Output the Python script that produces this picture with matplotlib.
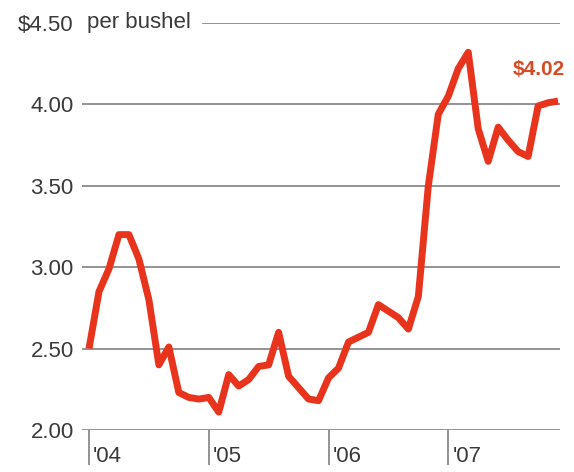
import matplotlib.pyplot as plt

# Monthly corn price, Jan 2004 - Dec 2007 ($ per bushel)
months = list(range(48))
prices = [
    2.50, 2.85, 2.99, 3.20, 3.20, 3.05, 2.80, 2.40, 2.51, 2.23, 2.20, 2.19,  # 2004
    2.20, 2.11, 2.34, 2.27, 2.31, 2.39, 2.40, 2.60, 2.33, 2.26, 2.19, 2.18,  # 2005
    2.32, 2.38, 2.54, 2.57, 2.60, 2.77, 2.73, 2.69, 2.62, 2.82, 3.50, 3.94,  # 2006
    4.05, 4.22, 4.32, 3.85, 3.65, 3.86, 3.78, 3.71, 3.68, 3.99, 4.01, 4.02,  # 2007
]
year_starts = [0, 12, 24, 36]
year_labels = ["'04", "'05", "'06", "'07"]
y_ticks = [2.0, 2.5, 3.0, 3.5, 4.0, 4.5]
y_labels = ["2.00", "2.50", "3.00", "3.50", "4.00", "$4.50"]
last_label = "$4.02"

LINE = "#e8341c"
TEXT = "#3a3a3a"
GRID = "#8a8a8a"

plt.rcParams["font.family"] = ["Liberation Sans", "DejaVu Sans"]

fig = plt.figure(figsize=(5.74, 4.72), dpi=100)
ax = fig.add_axes([0.1429, 0.0890, 0.8328, 0.8623])

ax.set_xlim(-0.7, 47.2)
ax.set_ylim(2.0, 4.5)

for y in y_ticks[:-1]:
    ax.axhline(y, color=GRID, lw=1.3, zorder=1)
ax.axhline(4.5, xmin=0.253, color=GRID, lw=1.3, zorder=1)

ax.plot(months, prices, color=LINE, lw=5, solid_joinstyle="round",
        solid_capstyle="butt", zorder=3, clip_on=False)

ax.set_yticks(y_ticks)
ax.set_yticklabels(y_labels)
ax.tick_params(axis="y", length=0, pad=6, labelsize=16, labelcolor=TEXT)

ax.set_xticks(year_starts)
ax.set_xticklabels([])
ax.tick_params(axis="x", length=25, width=1.3, color=GRID, direction="out")
for m, lab in zip(year_starts, year_labels):
    ax.annotate(lab, xy=(m, 2.0), xytext=(4, -27), textcoords="offset pixels",
                ha="left", va="center", fontsize=16, color=TEXT,
                annotation_clip=False)

ax.text(0.011, 4.5, "per bushel", transform=ax.get_yaxis_transform(),
        ha="left", va="center", fontsize=16, color=TEXT)
ax.annotate(last_label, xy=(months[-1], prices[-1]), xytext=(-19, 32),
            textcoords="offset pixels", ha="center", va="center",
            fontsize=15, fontweight="bold", color="#d84a25",
            annotation_clip=False)

for s in ax.spines.values():
    s.set_visible(False)

fig.savefig("out.png", dpi=100)
